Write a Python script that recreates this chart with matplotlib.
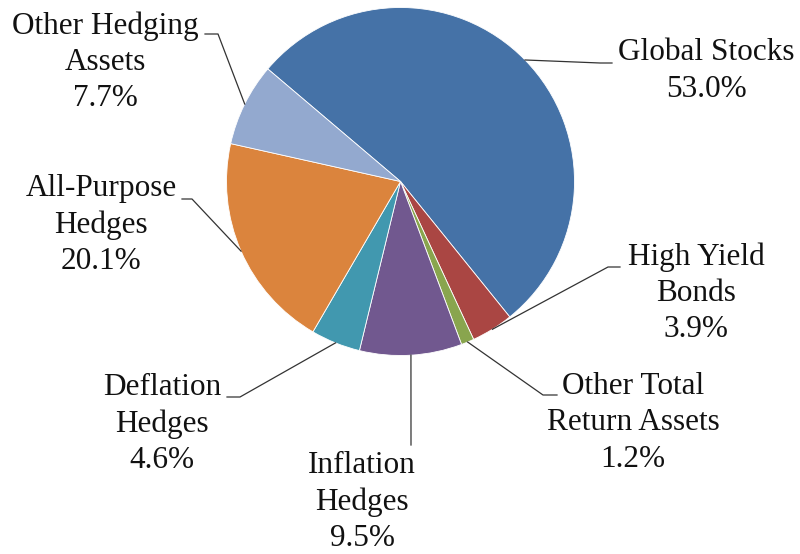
import numpy as np
import matplotlib
matplotlib.use("Agg")
import matplotlib.pyplot as plt

plt.rcParams['font.family'] = ['Liberation Serif', 'DejaVu Serif']

# data, in the order drawn (clockwise from the top-left)
labels = ["Global Stocks", "High Yield\nBonds", "Other Total\nReturn Assets",
          "Inflation\nHedges", "Deflation\nHedges", "All-Purpose\nHedges",
          "Other Hedging\nAssets"]
shares = [53.0, 3.9, 1.2, 9.5, 4.6, 20.1, 7.7]
colors = ["#4572A7", "#AA4643", "#89A54E", "#71588F", "#4198AF", "#DB843D", "#93A9CF"]

# label layout, in pixels of the 800x554 image (text centre, leader elbow, leader end)
text_px = [(706, 71), (696, 293), (633, 423), (362, 502), (162, 424), (101, 225), (105, 62)]
elbow_px = [(600, 63), (608, 267), (543, 395), (411, 445), (240, 397), (192, 199), (218, 34)]
end_px = [(612, 63), (620, 267), (557, 395), (411, 445), (227, 397), (182, 199), (205, 34)]

cx, cy, rad = 400.5, 181.5, 174.0


def to_units(p):
    return ((p[0] - cx) / rad, (cy - p[1]) / rad)


fig = plt.figure(figsize=(8, 5.54), dpi=100)
ax = fig.add_axes([0, 0, 1, 1])
wedges, _ = ax.pie(shares, colors=colors, startangle=139.7, counterclock=False,
                   radius=1.0, wedgeprops=dict(edgecolor='white', linewidth=0.6))

for w, lab, val, tp, ep, dp in zip(wedges, labels, shares, text_px, elbow_px, end_px):
    mid = np.deg2rad((w.theta1 + w.theta2) / 2)
    edge = (np.cos(mid), np.sin(mid))
    e = to_units(ep)
    d = to_units(dp)
    ax.plot([edge[0], e[0], d[0]], [edge[1], e[1], d[1]], color='#333333', lw=0.9)
    t = to_units(tp)
    ax.text(t[0], t[1], "%s\n%.1f%%" % (lab, val), ha='center', va='center',
            multialignment='center', fontsize=22.5, color='#111111', linespacing=1.32)

ax.set_xlim(-cx / rad, (800 - cx) / rad)
ax.set_ylim(-(554 - cy) / rad, cy / rad)
ax.set_aspect('equal')
ax.axis('off')
fig.savefig("out.png", dpi=100, facecolor='white')
